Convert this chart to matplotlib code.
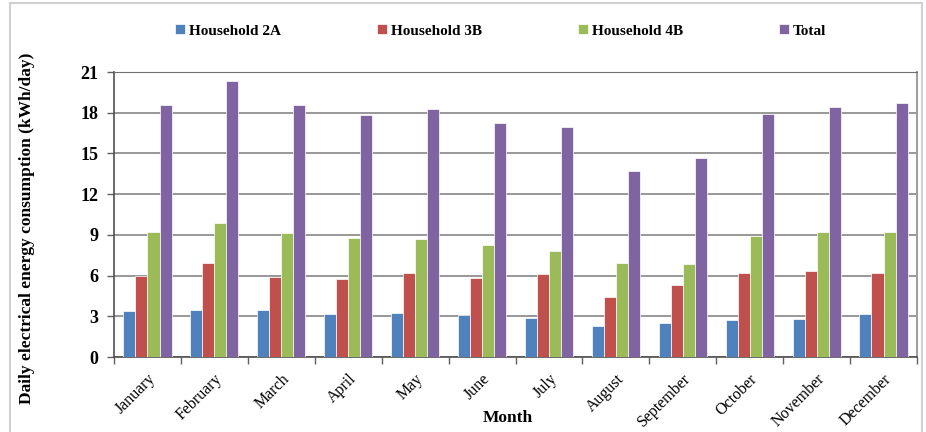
import numpy as np
import matplotlib
matplotlib.use("Agg")
import matplotlib.pyplot as plt
from matplotlib.patches import Rectangle

months = ["January", "February", "March", "April", "May", "June",
          "July", "August", "September", "October", "November", "December"]
house_2a = [3.37, 3.50, 3.50, 3.15, 3.25, 3.10, 2.91, 2.27, 2.47, 2.76, 2.81, 3.20]
house_3b = [5.96, 6.90, 5.86, 5.76, 6.16, 5.81, 6.11, 4.43, 5.27, 6.16, 6.33, 6.16]
house_4b = [9.23, 9.85, 9.16, 8.77, 8.72, 8.23, 7.83, 6.94, 6.82, 8.91, 9.21, 9.21]
total = [18.59, 20.31, 18.59, 17.83, 18.27, 17.21, 16.94, 13.69, 14.65, 17.87, 18.42, 18.71]
series_names = ["Household 2A", "Household 3B", "Household 4B", "Total"]
yticks = [0, 3, 6, 9, 12, 15, 18, 21]

colors = ["#4F81BD", "#C0504D", "#9BBB59", "#8064A2"]
plt.rcParams["font.family"] = ["Liberation Serif", "DejaVu Serif"]

fig = plt.figure(figsize=(9.26, 4.32), dpi=100)
ax = fig.add_axes([114 / 926, 75 / 432, (917 - 114) / 926, (357 - 72) / 432])

x = np.arange(len(months))
w = 0.18
for i, (vals, name) in enumerate(zip([house_2a, house_3b, house_4b, total], series_names)):
    ax.bar(x + (i - 1.5) * w, vals, w, color=colors[i], edgecolor="white",
           linewidth=0.5, label=name, zorder=3)

ax.set_xlim(-0.5, len(months) - 0.5)
ax.set_ylim(0, 21)
ax.set_yticks(yticks)
ax.set_yticklabels([str(v) for v in yticks], fontsize=13, fontweight="bold")
ax.yaxis.grid(True, color="#868686", linewidth=1.2, zorder=0)

ax.set_xticks(x)
ax.set_xticklabels(months, rotation=45, ha="right", rotation_mode="anchor", fontsize=11.5)
ax.set_xticks(np.arange(-0.5, len(months)), minor=True)
ax.tick_params(axis="x", which="major", length=0, pad=10)
ax.tick_params(axis="x", which="minor", length=5, color="#606060", width=1)
ax.tick_params(axis="y", length=5, color="#606060", width=1, pad=6)

for side in ["left", "bottom"]:
    ax.spines[side].set_color("#505050")
    ax.spines[side].set_linewidth(1.2)
ax.spines["top"].set_color("#707070")
ax.spines["right"].set_color("#a0a0a0")
ax.spines["right"].set_linewidth(1.5)

ax.set_xlabel("Month", fontsize=12.5, fontweight="bold")
ax.xaxis.set_label_coords(0.49, -0.185)
ax.set_ylabel("Daily electrical energy consumption (kWh/day)", fontsize=12.5,
              fontweight="bold")
ax.yaxis.set_label_coords(-0.098, 0.45)

leg = fig.legend(loc="center", bbox_to_anchor=(0.541, 0.928), ncol=4, frameon=False,
                 prop={"weight": "bold", "size": 11}, handlelength=0.6,
                 handleheight=0.6, handletextpad=0.3, columnspacing=6.3)

fig.patches.append(Rectangle((10 / 926, -0.05), 912 / 926, 1.05 - 3 / 432,
                             transform=fig.transFigure, fill=False,
                             edgecolor="#d0d0d0", linewidth=1.5))

fig.savefig("out.png", dpi=100)
